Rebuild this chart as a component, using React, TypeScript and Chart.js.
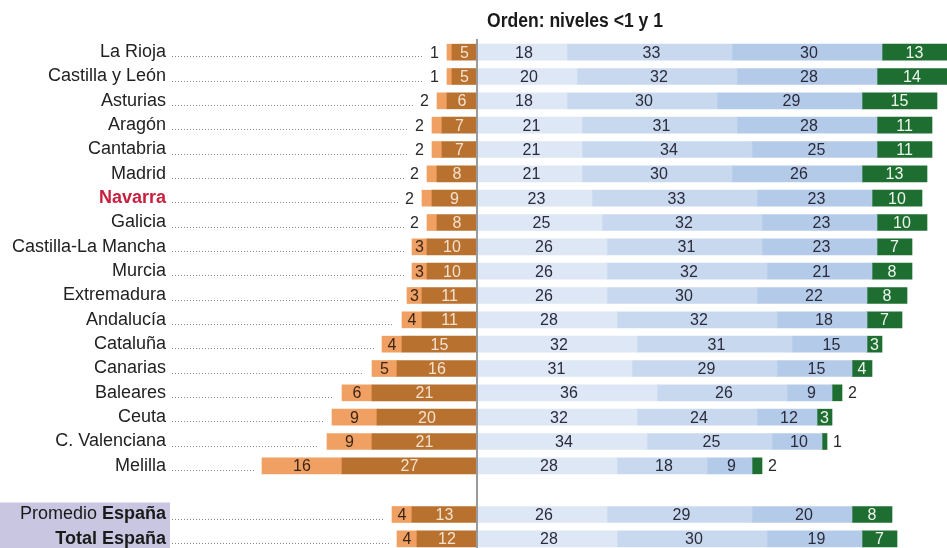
import React, { useEffect, useRef } from "react";
import { Chart, registerables } from "chart.js";

Chart.register(...registerables);

const regions = [
  "La Rioja", "Castilla y León", "Asturias", "Aragón", "Cantabria", "Madrid",
  "Navarra", "Galicia", "Castilla-La Mancha", "Murcia", "Extremadura", "Andalucía",
  "Cataluña", "Canarias", "Baleares", "Ceuta", "C. Valenciana", "Melilla",
  "", "Promedio España", "Total España",
];
const levelBelow1 = [1, 1, 2, 2, 2, 2, 2, 2, 3, 3, 3, 4, 4, 5, 6, 9, 9, 16, null, 4, 4];
const level1 = [5, 5, 6, 7, 7, 8, 9, 8, 10, 10, 11, 11, 15, 16, 21, 20, 21, 27, null, 13, 12];
const level2 = [18, 20, 18, 21, 21, 21, 23, 25, 26, 26, 26, 28, 32, 31, 36, 32, 34, 28, null, 26, 28];
const level3 = [33, 32, 30, 31, 34, 30, 33, 32, 31, 32, 30, 32, 31, 29, 26, 24, 25, 18, null, 29, 30];
const level4 = [30, 28, 29, 28, 25, 26, 23, 23, 23, 21, 22, 18, 15, 15, 9, 12, 10, 9, null, 20, 19];
const level5 = [13, 14, 15, 11, 11, 13, 10, 10, 7, 8, 8, 7, 3, 4, 2, 3, 1, 2, null, 8, 7];

const title = "Orden: niveles <1 y 1";
const highlighted = "Navarra";

const W = 947;
const H = 551;

const FONT = '"Liberation Sans", Arial, sans-serif';

const neg = (arr: (number | null)[]) => arr.map((v) => (v == null ? null : -v));

const overlayPlugin = {
  id: "overlay",
  afterDatasetsDraw(chart: any) {
    const ctx = chart.ctx as CanvasRenderingContext2D;
    const xs = chart.scales.x;
    const area = chart.chartArea;
    const zeroX = xs.getPixelForValue(0);
    const metas = chart.data.datasets.map((_: any, i: number) => chart.getDatasetMeta(i));

    ctx.save();
    // summary background box
    const idxProm = regions.indexOf("Promedio España");
    const yProm = metas[0].data[idxProm].y;
    ctx.fillStyle = "#c9c6e1";
    ctx.fillRect(0, yProm - 12, 170, H - (yProm - 12));

    // title (condensed bold)
    ctx.save();
    ctx.fillStyle = "#1a1a1a";
    ctx.font = `bold 20px ${FONT}`;
    ctx.textAlign = "center";
    ctx.textBaseline = "middle";
    const tw = ctx.measureText(title).width;
    ctx.translate(575, 21);
    ctx.scale(176 / tw, 1);
    ctx.fillText(title, 0, 0);
    ctx.restore();

    const labelRight = 166;
    const LBL = 18;
    regions.forEach((name, i) => {
      if (!name) return;
      const y = metas[0].data[i].y;
      // category label
      ctx.textAlign = "right";
      ctx.textBaseline = "middle";
      if (name === "Promedio España") {
        ctx.font = `bold ${LBL}px ${FONT}`;
        ctx.fillStyle = "#1a1a1a";
        const bw = ctx.measureText("España").width;
        ctx.fillText("España", labelRight, y);
        ctx.font = `${LBL}px ${FONT}`;
        ctx.fillText("Promedio ", labelRight - bw, y);
      } else if (name === "Total España") {
        ctx.font = `bold ${LBL}px ${FONT}`;
        ctx.fillStyle = "#1a1a1a";
        ctx.fillText(name, labelRight, y);
      } else if (name === highlighted) {
        ctx.font = `bold ${LBL}px ${FONT}`;
        ctx.fillStyle = "#c8203f";
        ctx.fillText(name, labelRight, y);
      } else {
        ctx.font = `${LBL}px ${FONT}`;
        ctx.fillStyle = "#222";
        ctx.fillText(name, labelRight, y);
      }

      // numbers
      ctx.font = `16px ${FONT}`;
      ctx.textBaseline = "middle";
      // left: dark (level1)
      const dEl = metas[0].data[i];
      ctx.textAlign = "center";
      ctx.fillStyle = "#f4e2cf";
      ctx.fillText(String(level1[i]), (dEl.x + dEl.base) / 2, y + 1);
      // left: light (<1)
      const lEl = metas[1].data[i];
      const lv = levelBelow1[i] as number;
      let leaderEnd = lEl.x - 8;
      if (lv <= 2) {
        ctx.textAlign = "right";
        ctx.fillStyle = "#2a2a2a";
        ctx.fillText(String(lv), lEl.x - 8, y + 1);
        leaderEnd = lEl.x - 8 - ctx.measureText(String(lv)).width - 6;
      } else {
        ctx.textAlign = "center";
        ctx.fillStyle = "#3a2618";
        ctx.fillText(String(lv), (lEl.x + lEl.base) / 2, y + 1);
      }
      // right blues
      const blues = [level2, level3, level4];
      blues.forEach((arr, k) => {
        const el = metas[2 + k].data[i];
        ctx.textAlign = "center";
        ctx.fillStyle = "#2b2b3a";
        ctx.fillText(String(arr[i]), (el.x + el.base) / 2 + 2, y + 1);
      });
      // green
      const gEl = metas[5].data[i];
      const gv = level5[i] as number;
      if (gv <= 2) {
        ctx.textAlign = "left";
        ctx.fillStyle = "#2a2a2a";
        ctx.fillText(String(gv), gEl.x + 6, y + 1);
      } else {
        ctx.textAlign = "center";
        ctx.fillStyle = "#eef5ee";
        ctx.fillText(String(gv), (gEl.x + gEl.base) / 2, y + 1);
      }

      // leader dotted line
      ctx.strokeStyle = "#8a8a8a";
      ctx.lineWidth = 1;
      ctx.setLineDash([1, 2]);
      ctx.beginPath();
      ctx.moveTo(labelRight + 6, Math.round(y + 4) + 0.5);
      ctx.lineTo(leaderEnd, Math.round(y + 4) + 0.5);
      ctx.stroke();
      ctx.setLineDash([]);
    });

    // central axis
    ctx.strokeStyle = "#9a9a9a";
    ctx.lineWidth = 2;
    ctx.beginPath();
    ctx.moveTo(zeroX, area.top - 1);
    ctx.lineTo(zeroX, H);
    ctx.stroke();
    ctx.restore();
  },
};

export default function App() {
  const ref = useRef<HTMLCanvasElement | null>(null);
  useEffect(() => {
    if (!ref.current) return;
    const chart = new Chart(ref.current, {
      type: "bar",
      data: {
        labels: regions,
        datasets: [
          { label: "1", data: neg(level1), backgroundColor: "#b8712f" },
          { label: "<1", data: neg(levelBelow1), backgroundColor: "#f0a062" },
          { label: "2", data: level2, backgroundColor: "#dde7f5" },
          { label: "3", data: level3, backgroundColor: "#c8d9ef" },
          { label: "4", data: level4, backgroundColor: "#b3cae9" },
          { label: "5", data: level5, backgroundColor: "#1e6e32" },
        ].map((d) => ({ ...d, borderWidth: 0, borderSkipped: false, barThickness: 16 })),
      },
      options: {
        indexAxis: "y",
        responsive: false,
        animation: false,
        devicePixelRatio: 1,
        layout: { padding: { left: 257, right: 0, top: 40, bottom: 0 } },
        plugins: { legend: { display: false }, tooltip: { enabled: false } },
        scales: {
          x: { stacked: true, min: -44, max: 94, display: false },
          y: { stacked: true, display: false },
        },
      },
      plugins: [overlayPlugin],
    });
    return () => chart.destroy();
  }, []);
  return (
    <div style={{ position: "fixed", left: 0, top: 0, width: W, height: H, background: "#fff" }}>
      <canvas ref={ref} width={W} height={H} style={{ width: W, height: H, display: "block" }} />
    </div>
  );
}
